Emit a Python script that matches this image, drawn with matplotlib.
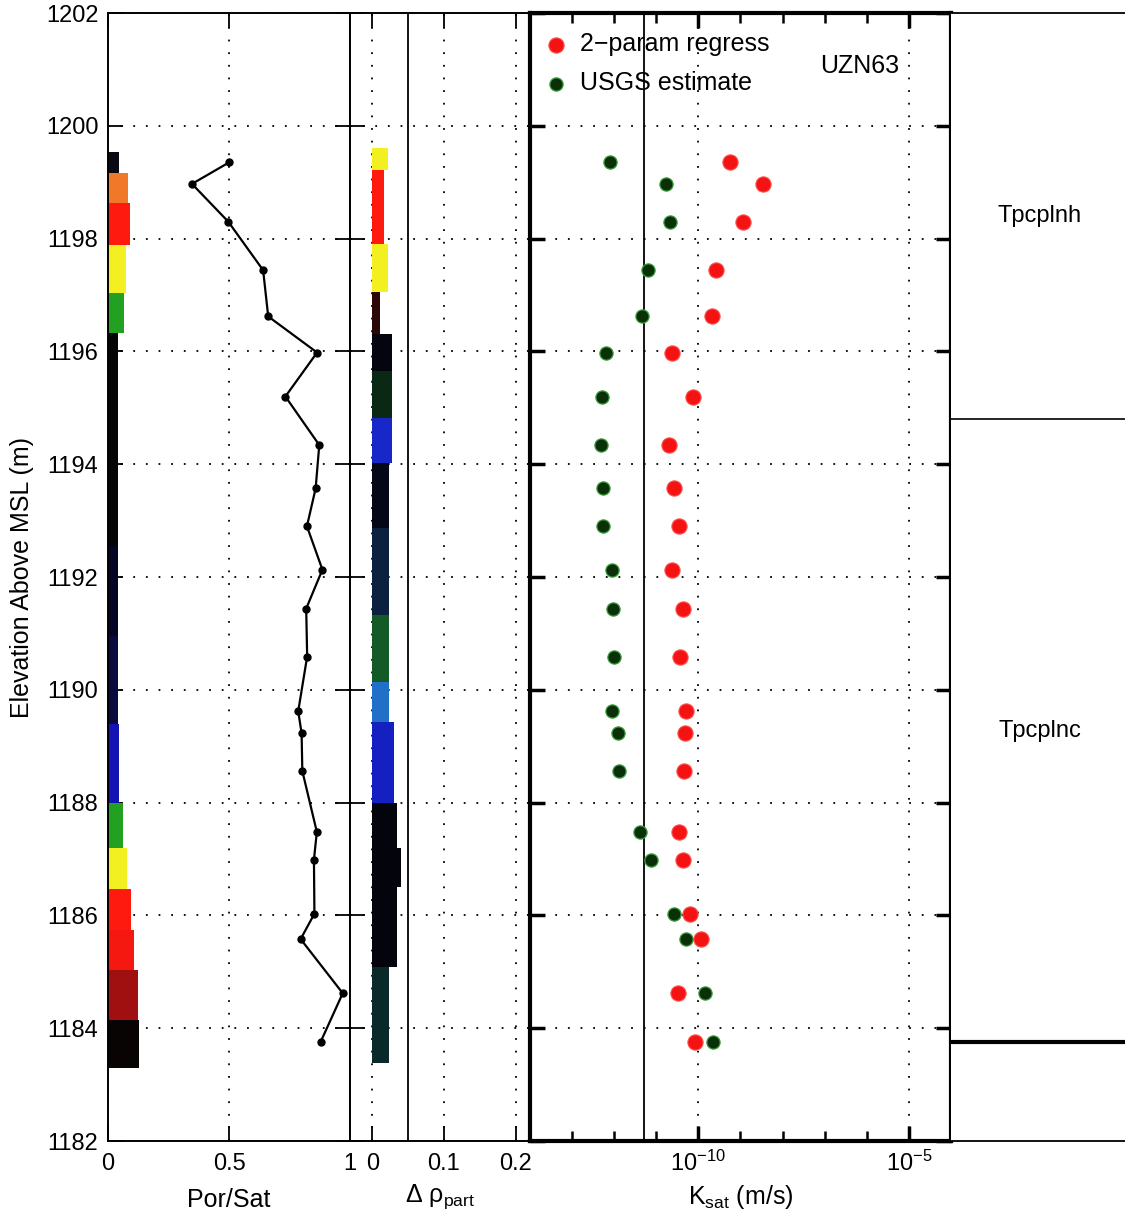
import numpy as np
import matplotlib
matplotlib.use("Agg")
import matplotlib.pyplot as plt
from matplotlib.ticker import FixedLocator, NullFormatter, LogFormatterSciNotation

plt.rcParams['font.family'] = ['Liberation Sans', 'DejaVu Sans']
plt.rcParams['mathtext.fontset'] = 'custom'
plt.rcParams['mathtext.rm'] = 'Liberation Sans'
plt.rcParams['mathtext.it'] = 'Liberation Sans:italic'
plt.rcParams['mathtext.sf'] = 'Liberation Sans'

# ---------------- data ----------------
elevation = [1199.35, 1198.97, 1198.30, 1197.44, 1196.62, 1195.98, 1195.20, 1194.34,
             1193.57, 1192.90, 1192.13, 1191.44, 1190.59, 1189.62, 1189.23, 1188.56,
             1187.48, 1186.99, 1186.03, 1185.58, 1184.62, 1183.76]
por_sat = [0.500, 0.347, 0.497, 0.641, 0.662, 0.864, 0.733, 0.873, 0.858, 0.822, 0.886,
           0.819, 0.823, 0.786, 0.800, 0.803, 0.863, 0.851, 0.853, 0.796, 0.970, 0.879]
k_regress = [5.6e-10, 3.5e-9, 1.15e-9, 2.6e-10, 2.1e-10, 2.4e-11, 7.4e-11, 2.0e-11,
             2.6e-11, 3.5e-11, 2.3e-11, 4.3e-11, 3.7e-11, 5.0e-11, 4.7e-11, 4.5e-11,
             3.4e-11, 4.3e-11, 6.2e-11, 1.15e-10, 3.2e-11, 8.1e-11]
k_usgs = [8.1e-13, 1.7e-11, 2.1e-11, 6.2e-12, 4.5e-12, 6.5e-13, 5.1e-13, 4.9e-13,
          5.5e-13, 5.4e-13, 8.7e-13, 9.3e-13, 9.8e-13, 8.9e-13, 1.23e-12, 1.29e-12,
          4.2e-12, 7.4e-12, 2.7e-11, 5.2e-11, 1.45e-10, 2.2e-10]

# colored log bars in Por/Sat panel
ps_bar_top = [1199.54, 1199.16, 1198.63, 1197.88, 1197.03, 1196.32, 1192.55, 1190.95,
              1189.40, 1188.00, 1187.20, 1186.46, 1185.74, 1185.03, 1184.14]
ps_bar_bot = [1199.16, 1198.63, 1197.88, 1197.03, 1196.32, 1192.55, 1190.95, 1189.40,
              1188.00, 1187.20, 1186.46, 1185.74, 1185.03, 1184.14, 1183.29]
ps_bar_val = [0.044, 0.084, 0.090, 0.075, 0.066, 0.040, 0.042, 0.042, 0.045, 0.062,
              0.079, 0.096, 0.107, 0.126, 0.130]
ps_bar_col = ['#0a0a14', '#f07828', '#ff1a10', '#f2f020', '#22a022', '#050508', '#060624',
              '#0a0a40', '#1414b4', '#22a022', '#f2f020', '#ff1a10', '#f51810', '#a01010',
              '#080404']

# colored bars in delta-rho panel
dr_bar_top = [1199.60, 1199.21, 1197.90, 1197.06, 1196.30, 1195.66, 1194.82, 1194.02,
              1192.86, 1191.32, 1190.14, 1189.43, 1188.00, 1187.20, 1186.50, 1185.09]
dr_bar_bot = [1199.21, 1197.90, 1197.06, 1196.30, 1195.66, 1194.82, 1194.02, 1192.86,
              1191.32, 1190.14, 1189.43, 1188.00, 1187.20, 1186.50, 1185.09, 1183.38]
dr_bar_val = [0.022, 0.016, 0.022, 0.011, 0.028, 0.027, 0.027, 0.024, 0.024, 0.024,
              0.024, 0.030, 0.034, 0.040, 0.035, 0.024]
dr_bar_col = ['#f2f020', '#ff1a10', '#f2f020', '#2a0808', '#050510', '#0a2814', '#1828c8',
              '#060818', '#0c2040', '#145a28', '#2070c8', '#1420c0', '#04040c', '#04040c',
              '#04040c', '#0a2a2a']

unit_bounds = [1202.0, 1194.8, 1183.75, 1182.0]
unit_names = ['Tpcplnh', 'Tpcplnc', '']

y_ticks = list(range(1182, 1203, 2))
ps_ticks = [0, 0.5, 1]
ps_ticklabels = ['0', '0.5', '1']
dr_ticks = [0, 0.1, 0.2]
dr_ticklabels = ['0', '0.1', '0.2']
dr_ref_line = 0.05
k_ref_line = 5e-12
k_major = [1e-10, 1e-5]
k_minor = [1e-14, 1e-13, 1e-12, 1e-11, 1e-10, 1e-9, 1e-8, 1e-7, 1e-6, 1e-5, 1e-4]

# ---------------- layout ----------------
W, H = 1125, 1220
fig = plt.figure(figsize=(W / 100, H / 100), dpi=100)
top_px, bot_px = 13, 1141
def rect(x0, x1):
    return [x0 / W, 1 - bot_px / H, (x1 - x0) / W, (bot_px - top_px) / H]

ax1 = fig.add_axes(rect(108, 350))
ax2 = fig.add_axes(rect(350, 530))
ax3 = fig.add_axes(rect(530, 951))
ax4 = fig.add_axes(rect(951, 1220))

TICK = 17
LAB = 18
grid_kw = dict(color='black', linestyle=(0, (1, 6)), linewidth=1.3)

for ax in (ax1, ax2, ax3, ax4):
    ax.set_ylim(1182, 1202)
for ax in (ax1, ax2):
    for sp in ax.spines.values():
        sp.set_linewidth(1.4)
        sp.set_color('black')

# Panel 1: Por/Sat
ps_c = [(t + b) / 2 for t, b in zip(ps_bar_top, ps_bar_bot)]
ps_h = [t - b for t, b in zip(ps_bar_top, ps_bar_bot)]
ax1.barh(ps_c, ps_bar_val, height=ps_h, left=0, color=ps_bar_col, edgecolor='none', zorder=2)
ax1.plot(por_sat, elevation, color='black', lw=1.6, marker='o', ms=5, zorder=3)
ax1.set_xlim(0, 1)
ax1.set_xticks(ps_ticks)
ax1.set_xticklabels(ps_ticklabels)
ax1.set_yticks(y_ticks)
ax1.set_xlabel('Por/Sat', fontsize=LAB, labelpad=9)
ax1.grid(True, **grid_kw)
ax1.tick_params(direction='in', top=True, right=True, length=11, width=1.3,
                labelsize=TICK, pad=9)
ax1.tick_params(axis='y', pad=7)

# Panel 2: delta rho
dr_c = [(t + b) / 2 for t, b in zip(dr_bar_top, dr_bar_bot)]
dr_h = [t - b for t, b in zip(dr_bar_top, dr_bar_bot)]
ax2.barh(dr_c, dr_bar_val, height=dr_h, left=0, color=dr_bar_col, edgecolor='none', zorder=2)
ax2.axvline(dr_ref_line, color='black', lw=1.3, zorder=3)
ax2.set_xlim(-0.031, 0.22)
ax2.set_xticks(dr_ticks)
ax2.set_xticklabels(dr_ticklabels)
ax2.set_yticks(y_ticks)
ax2.set_yticklabels([])
ax2.set_xlabel('Δ ρ$_{\\mathrm{part}}$', fontsize=LAB, labelpad=5)
ax2.grid(True, **grid_kw)
ax2.tick_params(direction='in', top=True, right=True, length=11, width=1.3,
                labelsize=TICK, pad=9)
ax2.tick_params(axis='y', left=True, right=False)

# Panel 3: K_sat
ax3.set_xscale('log')
ax3.set_xlim(1e-14, 1e-4)
ax3.scatter(k_regress, elevation, s=120, c='#f41212', edgecolors='#ff5050',
            linewidths=0.8, zorder=4, label='2\u2212param regress')
ax3.scatter(k_usgs, elevation, s=90, c='#0a300a', edgecolors='#3a9a3a',
            linewidths=0.9, zorder=4, label='USGS estimate')
ax3.axvline(k_ref_line, color='black', lw=1.3, zorder=3)
ax3.xaxis.set_major_locator(FixedLocator(k_major))
ax3.xaxis.set_minor_locator(FixedLocator(k_minor))
ax3.xaxis.set_major_formatter(LogFormatterSciNotation())
ax3.xaxis.set_minor_formatter(NullFormatter())
ax3.set_yticks(y_ticks)
ax3.set_yticklabels([])
ax3.set_xlabel('K$_{\\mathrm{sat}}$ (m/s)', fontsize=LAB, labelpad=5)
ax3.grid(True, which='major', **grid_kw)
ax3.tick_params(which='major', direction='in', top=True, right=True, length=11,
                width=2.5, labelsize=TICK, pad=7)
ax3.tick_params(which='minor', direction='in', top=True, bottom=True, length=7, width=1.8)
for sp in ax3.spines.values():
    sp.set_linewidth(3)
leg = ax3.legend(loc='upper left', bbox_to_anchor=(0.0, 0.995), frameon=False,
                 fontsize=LAB, handletextpad=0.45, labelspacing=0.6,
                 borderaxespad=0.25, borderpad=0.3, scatterpoints=1, handlelength=1.0)
ax3.text(0.782, 0.953, 'UZN63', transform=ax3.transAxes, ha='center', va='center',
         fontsize=LAB)

# Panel 4: geologic units
ax4.set_xlim(0, 1)
ax4.set_xticks([])
ax4.set_yticks([])
ax4.spines['right'].set_visible(False)
ax4.spines['left'].set_visible(False)
for sp in ('top', 'bottom'):
    ax4.spines[sp].set_linewidth(1.3)
ax4.axhline(unit_bounds[1], color='black', lw=1.2)
ax4.axhline(unit_bounds[2], color='black', lw=3)
for i, name in enumerate(unit_names):
    if name:
        ax4.text(0.33, (unit_bounds[i] + unit_bounds[i + 1]) / 2, name,
                 ha='center', va='center', fontsize=TICK)

fig.text(22 / W, 1 - 577 / H, 'Elevation Above MSL (m)', rotation=90,
         ha='center', va='center', fontsize=LAB)

fig.savefig('out.png', dpi=100)
